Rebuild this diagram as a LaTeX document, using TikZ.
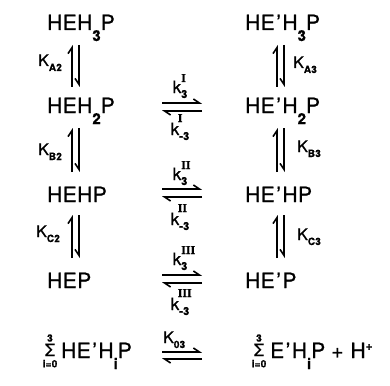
\documentclass[tikz,border=0pt]{standalone}
\usepackage{fontspec}
\setmainfont{TeX Gyre Heros}[FakeBold=0.8,LetterSpace=2]
\newfontfamily\romfont{Liberation Serif}[FakeBold=0.8]
\usetikzlibrary{arrows.meta,calc,positioning}

% chemical subscript, set well below the baseline
\newcommand\chs[1]{\raisebox{-11pt}{\fontsize{15}{15}\selectfont\bfseries #1}}
% equilibrium constant K with small subscript
\newcommand\eqK[1]{K\raisebox{-5pt}{\fontsize{10}{10}\selectfont\bfseries #1}}
% rate constant k with roman superscript and numeric subscript
\newcommand\rk[2]{k\rlap{\raisebox{11pt}{\fontsize{12}{12}\selectfont\romfont\bfseries #2}}\raisebox{-5pt}{\fontsize{11}{11}\selectfont\bfseries #1}}
\newcommand\rkb[2]{\rlap{\hspace{7pt}\raisebox{13pt}{\fontsize{12}{12}\selectfont\romfont\bfseries #2}}k\raisebox{-5pt}{\fontsize{11}{11}\selectfont\bfseries #1}}
\newcommand\prm{\hspace{1.5pt}\textquoteright\hspace{1.5pt}}

\begin{document}
\begin{tikzpicture}[x=1pt,y=-1pt,
  species/.style={anchor=base west, inner sep=0pt, font=\fontsize{21}{21}\selectfont},
  const/.style={anchor=base west, inner sep=0pt, font=\fontsize{16}{16}\selectfont},
  rate/.style={anchor=base, inner sep=0pt, font=\fontsize{17}{17}\selectfont},
  sig/.style={anchor=base, inner sep=0pt, font=\fontsize{17}{17}\selectfont},
  limit/.style={inner sep=0pt, font=\fontsize{10}{10}\selectfont\bfseries},
  arr/.style={line width=1.6pt},
  uph/.style={arr, -{Straight Barb[harpoon,length=6pt,width=8pt]}},
  dnh/.style={arr, -{Straight Barb[harpoon,swap,length=6pt,width=8pt]}},
  fwd/.style={arr, -{Straight Barb[harpoon,length=6pt,width=8pt]}},
  bwd/.style={arr, -{Straight Barb[harpoon,length=6pt,width=8pt]}}]
\useasboundingbox (0,0) rectangle (390,385);

% left column
\node[species] (a1) at (47,30)  {HEH\chs{3}P};
\node[species] (a2) at (47,113) {HEH\chs{2}P};
\node[species] (a3) at (47,202) {HEHP};
\node[species] (a4) at (47,288) {HEP};
% right column
\node[species] (b1) at (245,30)  {HE\prm H\chs{3}P};
\node[species] (b2) at (245,113) {HE\prm H\chs{2}P};
\node[species] (b3) at (245,202) {HE\prm HP};
\node[species] (b4) at (245,288) {HE\prm P};

% overall equilibrium: summations with limits
\node[sig] (sg1) at (50,356) {Σ};
\node[limit, above=1.5pt of sg1] (up1) {3};
\node[limit, below=3.5pt of sg1] (lo1) {i=0};
\node[sig] (sg2) at (259,356) {Σ};
\node[limit, above=1.5pt of sg2] (up2) {3};
\node[limit, below=3.5pt of sg2] (lo2) {i=0};
\node[species] (s1) at (61,358) {HE\prm H\chs{i}P};
\node[species] (s2) at (270,358) {E\prm H\chs{i}P\hspace{6pt}+\hspace{7pt}H\raisebox{8pt}{\fontsize{12}{12}\selectfont\bfseries +}};

% vertical equilibria, left column
\foreach \u/\l/\t/\b in {a1/a2/15/-26, a2/a3/15/-30, a3/a4/13/-30}{
  \draw[uph] ($(\l.base west)+(25,\b)$) -- ($(\u.base west)+(25,\t)$);
  \draw[dnh] ($(\u.base west)+(32,\t)$) -- ($(\l.base west)+(32,\b)$);
}
% vertical equilibria, right column
\foreach \u/\l/\t/\b in {b1/b2/15/-26, b2/b3/15/-30, b3/b4/13/-30}{
  \draw[uph] ($(\l.base west)+(32,\b)$) -- ($(\u.base west)+(32,\t)$);
  \draw[dnh] ($(\u.base west)+(39,\t)$) -- ($(\l.base west)+(39,\b)$);
}
\node[const] (ka2) at (38,66)  {\eqK{A2}};
\node[const] (kb2) at (38,155) {\eqK{B2}};
\node[const] (kc2) at (36,237) {\eqK{C2}};
\node[const] (ka3) at (293,68) {\eqK{A3}};
\node[const] (kb3) at (297,152) {\eqK{B3}};
\node[const] (kc3) at (297,240) {\eqK{C3}};

% horizontal equilibria
\foreach \l/\r/\t/\b in {a2/b2/-10/-2, a3/b3/-13/-5, a4/b4/-13/-5}{
  \draw[fwd] ($(\l.base west)+(115,\t)$) -- ($(\r.base west)+(-43,\t)$);
  \draw[bwd] ($(\r.base west)+(-43,\b)$) -- ($(\l.base west)+(115,\b)$);
}
\draw[fwd] ($(s1.base west)+(101,-6)$) -- ($(s2.base west)+(-68,-6)$);
\draw[bwd] ($(s2.base west)+(-68,1)$) -- ($(s1.base west)+(101,1)$);
\node[rate] (f1) at (180,93)  {\rk{3}{I}};
\node[rate] (r1) at (180,135) {\rkb{-3}{I}};
\node[rate] (f2) at (180,180) {\rk{3}{II}};
\node[rate] (r2) at (180,225) {\rkb{-3}{II}};
\node[rate] (f3) at (180,265) {\rk{3}{III}};
\node[rate] (r3) at (180,310) {\rkb{-3}{III}};
\node[const] (k03) at (163,343) {\eqK{03}};
\end{tikzpicture}
\end{document}
